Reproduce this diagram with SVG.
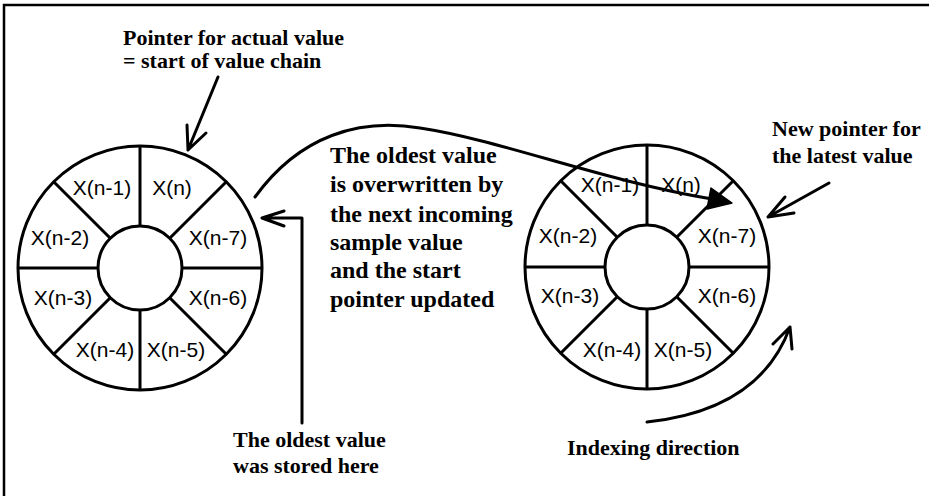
<svg xmlns="http://www.w3.org/2000/svg" width="929" height="496" viewBox="0 0 929 496">
<style>
.ring{fill:#fff;stroke:#000;stroke-width:3}
.spoke{stroke:#000;stroke-width:3;fill:none}
.lbl{font-family:"Liberation Sans",Arial,sans-serif;font-size:21px;fill:#000;text-anchor:middle}
.note{font-family:"Liberation Serif","Times New Roman",serif;font-weight:bold;font-size:22px;fill:#000}
.big{font-size:24px}
.conn{stroke:#000;stroke-width:3;fill:none;stroke-linecap:round;stroke-linejoin:round}
.frame{stroke:#000;stroke-width:2.5;fill:none}
</style>
<rect width="929" height="496" fill="#fff"/>
<path class="frame" d="M4,496 L4,5 L929,5"/>

<g id="buffer-left">
  <circle class="ring" cx="140" cy="268" r="122"/>
  <path class="spoke" d="M140,146 V226 M140,310 V390 M18,268 H98 M182,268 H262 M53.7,181.7 L110.3,238.3 M169.7,297.7 L226.3,354.3 M226.3,181.7 L169.7,238.3 M110.3,297.7 L53.7,354.3"/>
  <circle class="ring" cx="140" cy="268" r="42"/>
  <text class="lbl" x="102" y="195">X(n-1)</text>
  <text class="lbl" x="172" y="195">X(n)</text>
  <text class="lbl" x="60" y="245">X(n-2)</text>
  <text class="lbl" x="218" y="245">X(n-7)</text>
  <text class="lbl" x="63" y="305">X(n-3)</text>
  <text class="lbl" x="218" y="305">X(n-6)</text>
  <text class="lbl" x="105" y="357">X(n-4)</text>
  <text class="lbl" x="176" y="357">X(n-5)</text>
</g>

<g id="buffer-right">
  <circle class="ring" cx="647" cy="267" r="122"/>
  <path class="spoke" d="M647,145 V225 M647,309 V389 M525,267 H605 M689,267 H769 M560.7,180.7 L617.3,237.3 M676.7,296.7 L733.3,353.3 M733.3,180.7 L676.7,237.3 M617.3,296.7 L560.7,353.3"/>
  <circle class="ring" cx="647" cy="267" r="42"/>
  <text class="lbl" x="610" y="192">X(n-1)</text>
  <text class="lbl" x="681" y="192">X(n)</text>
  <text class="lbl" x="568" y="243">X(n-2)</text>
  <text class="lbl" x="727" y="243">X(n-7)</text>
  <text class="lbl" x="570" y="303">X(n-3)</text>
  <text class="lbl" x="727" y="303">X(n-6)</text>
  <text class="lbl" x="612" y="357">X(n-4)</text>
  <text class="lbl" x="683" y="357">X(n-5)</text>
</g>

<g id="note-pointer">
  <text class="note" x="123" y="45">Pointer for actual value</text>
  <text class="note" x="123" y="68">= start of value chain</text>
</g>
<g id="note-overwrite">
  <text class="note big" x="330" y="163">The oldest value</text>
  <text class="note big" x="330" y="192">is overwritten by</text>
  <text class="note big" x="330" y="222">the next incoming</text>
  <text class="note big" x="330" y="250">sample value</text>
  <text class="note big" x="330" y="278">and the start</text>
  <text class="note big" x="330" y="307">pointer updated</text>
</g>
<g id="note-new-pointer">
  <text class="note" x="772" y="136">New pointer for</text>
  <text class="note" x="772" y="163">the latest value</text>
</g>
<g id="note-oldest">
  <text class="note" x="233" y="447">The oldest value</text>
  <text class="note" x="233" y="473">was stored here</text>
</g>
<g id="note-indexing">
  <text class="note" x="567" y="455">Indexing direction</text>
</g>

<g id="connectors">
  <path class="conn" d="M218,77 L188,150 M206,133 L188,150 L187,125"/>
  <path class="conn" d="M255,197 C300,135 360,118 420,128 C500,140 600,180 712,199"/>
  <polygon points="732,203 711,188 707,209" fill="#000" stroke="#000" stroke-width="1.5" stroke-linejoin="round"/>
  <path class="conn" d="M302,423 L302,218 L262,218 M284,211 L262,218 L284,226"/>
  <path class="conn" d="M829,183 L768,217 M794,213 L768,217 L785,197"/>
  <path class="conn" d="M647,422 Q760,410 790,327 M773,344 L790,327 L792,349"/>
</g>
</svg>
